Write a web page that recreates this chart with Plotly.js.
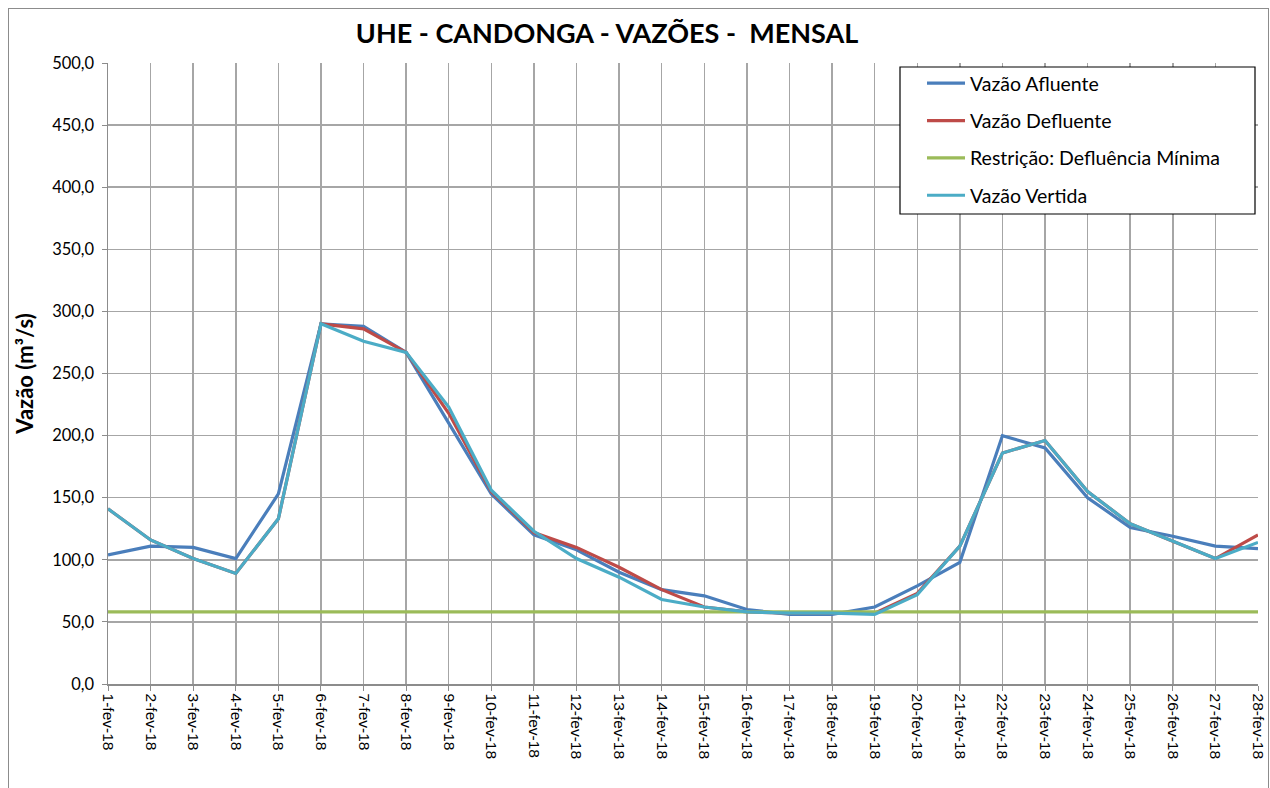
<!DOCTYPE html>
<html><head><meta charset="utf-8">
<script src="https://cdn.plot.ly/plotly-3.0.1.min.js"></script>
<style>
html,body{margin:0;padding:0;background:#fff;}
#wrap{position:relative;width:1270px;height:788px;}
#chart{position:absolute;left:0;top:0;width:1270px;height:788px;}
#frame{position:absolute;left:8px;top:8px;width:1259px;height:800px;border:1px solid #8c8c8c;pointer-events:none;}
</style></head>
<body><div id="wrap"><div id="chart"></div><div id="frame"></div></div>
<script>
const days = ["1-fev-18","2-fev-18","3-fev-18","4-fev-18","5-fev-18","6-fev-18","7-fev-18","8-fev-18","9-fev-18","10-fev-18","11-fev-18","12-fev-18","13-fev-18","14-fev-18","15-fev-18","16-fev-18","17-fev-18","18-fev-18","19-fev-18","20-fev-18","21-fev-18","22-fev-18","23-fev-18","24-fev-18","25-fev-18","26-fev-18","27-fev-18","28-fev-18"];
const afluente = [104,111,110,101,153,290,288,267,210,153,120,108,90,76,71,60,56,56,62,79,98,200,190,150,126,119,111,109];
const defluente = [141,116,101,89,133,290,286,267,218,155,122,110,94,76,62,58,57,57,57,73,111,186,196,155,129,115,101,120];
const minima = [58,58,58,58,58,58,58,58,58,58,58,58,58,58,58,58,58,58,58,58,58,58,58,58,58,58,58,58];
const vertida = [141,116,101,89,133,290,276,267,223,156,123,101,86,68,62,58,57,57,56,72,111,186,196,155,129,115,101,114];

const f = "Lato, 'Open Sans', sans-serif";
const mk = (name, y, color, g) => ({type:'scatter', mode:'lines', x:days, y:y, name:name,
  line:{color:color, width:3.2}, legendgroup:g, hoverinfo:'skip'});
const traces = [
  mk('Vazão Afluente', afluente, '#4a7ebb', 'a'),
  mk('Vazão Defluente', defluente, '#be4b48', 'b'),
  mk('Restrição: Defluência Mínima', minima, '#9bbb59', 'c'),
  mk('Vazão Vertida', vertida, '#4bacc6', 'd')
];
const px2x = p => (p - 108) / 1150;
const px2y = p => (684 - p) / 621;
const layout = {
  width:1270, height:788,
  margin:{l:108, r:12, t:63, b:104},
  paper_bgcolor:'rgba(0,0,0,0)', plot_bgcolor:'#fff',
  separators:',.',
  font:{family:f, color:'#000'},
  title:{text:'<b>UHE - CANDONGA - VAZÕES -  MENSAL</b>', font:{family:f, size:27, color:'#000'}, x:0.478, xanchor:'center', y:0.958, yanchor:'middle'},
  xaxis:{type:'category', range:[0,27], tickangle:90, tickfont:{family:"'Liberation Sans', Arial, sans-serif", size:15.5},
    showgrid:true, gridcolor:'#a6a6a6', gridwidth:1.5, showline:true, linecolor:'#8c8c8c', linewidth:1.5,
    ticks:'outside', ticklen:5, tickcolor:'#8c8c8c', zeroline:false, fixedrange:true},
  yaxis:{range:[0,500], tick0:0, dtick:50, tickformat:'.1f', tickfont:{family:f, size:16.5}, ticklabelstandoff:4,
    showgrid:true, gridcolor:'#a6a6a6', gridwidth:1.5, showline:true, linecolor:'#8c8c8c', linewidth:1.5,
    ticks:'outside', ticklen:5, tickcolor:'#8c8c8c', zeroline:false, fixedrange:true,
    title:{text:'<b>Vazão (m³/s)</b>', font:{family:f, size:22}, standoff:12}},
  shapes:[{type:'rect', xref:'paper', yref:'paper', x0:px2x(900), x1:px2x(1255), y0:px2y(214), y1:px2y(67),
    line:{color:'#000', width:1.2}, fillcolor:'#fff', layer:'above'}],
  showlegend:true,
  legend:{x:px2x(922), xanchor:'left', y:px2y(64), yanchor:'top', bgcolor:'rgba(0,0,0,0)', borderwidth:0,
    font:{family:f, size:19.5}, traceorder:'grouped', tracegroupgap:9, itemwidth:38},
};
Plotly.newPlot('chart', traces, layout, {staticPlot:true, displayModeBar:false});
</script></body></html>
